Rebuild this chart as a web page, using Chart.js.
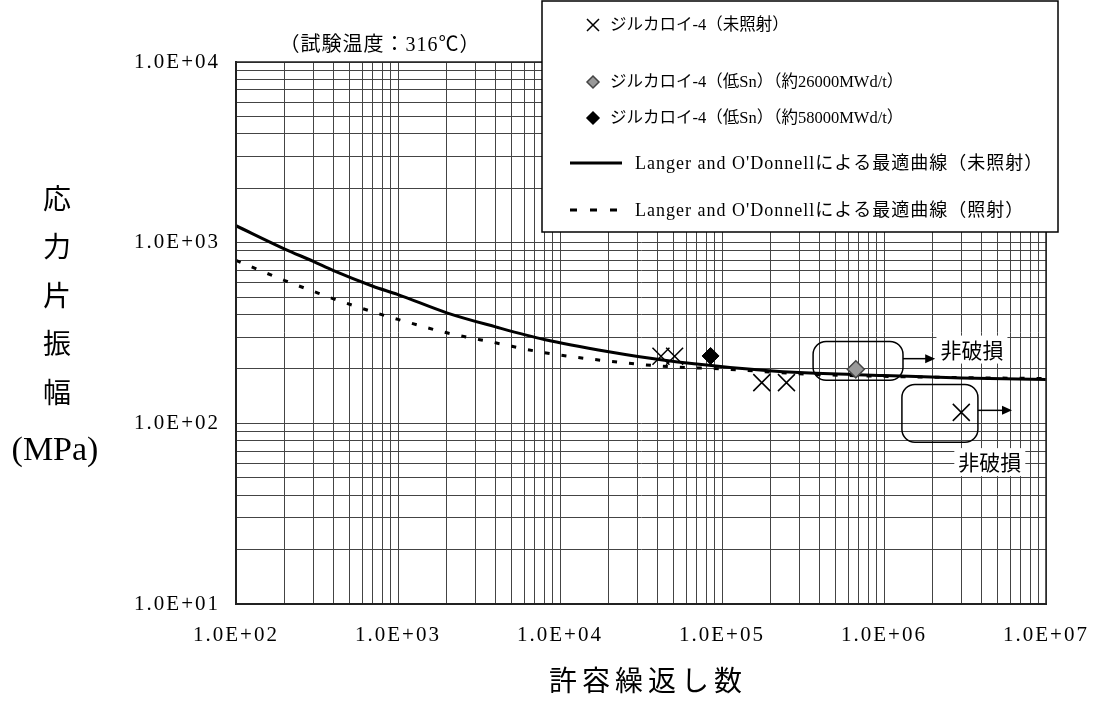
<!DOCTYPE html>
<html lang="ja">
<head>
<meta charset="utf-8">
<title>許容繰返し数</title>
<script src="https://cdn.jsdelivr.net/npm/chart.js@4.4.1/dist/chart.umd.min.js"></script>
<style>
  html, body { margin: 0; padding: 0; background: #fff; }
  #c { display: block; }
</style>
</head>
<body>
<canvas id="c" width="1097" height="701"></canvas>
<script>
// fitted curves (Langer and O'Donnell)
const curveN = [100, 200, 300, 400, 700, 1000, 2000, 4000, 8000, 20000, 43000, 112000, 300000, 1000000, 3000000, 10000000];
const curveUnirr = [1241, 922, 788, 700, 574, 516, 409, 342, 291, 249, 224, 204, 191, 184, 178, 175];
const curveIrr = [798, 617, 538, 489, 414, 376, 317, 279, 246, 221, 207, 199, 188, 182, 179, 177];

// test points
const unirrN = [42000, 51000, 176000, 250000, 3000000];
const unirrS = [235, 235, 168, 168, 115];
const lowSn26N = [670000];
const lowSn26S = [199];
const lowSn58N = [85000];
const lowSn58S = [236];

// axes
const xDecades = [100, 1000, 10000, 100000, 1000000, 10000000];
const xTickLabels = ['1.0E+02', '1.0E+03', '1.0E+04', '1.0E+05', '1.0E+06', '1.0E+07'];
const yDecades = [10, 100, 1000, 10000];
const yTickLabels = ['1.0E+01', '1.0E+02', '1.0E+03', '1.0E+04'];

const seriesNames = [
    'ジルカロイ-4（未照射）',
    'ジルカロイ-4（低Sn）（約26000MWd/t）',
    'ジルカロイ-4（低Sn）（約58000MWd/t）',
    "Langer and O'Donnellによる最適曲線（未照射）",
    "Langer and O'Donnellによる最適曲線（照射）"
];

// run-out notes: box corners, arrow end and label, in data units
const notes = [
    { n1: 365000, n2: 1310000, s1: 284, s2: 173, arrowN: 2070000, arrowS: 228, textN: 3490000, textS: 256 },
    { n1: 1290000, n2: 3800000, s1: 164, s2: 78.5, arrowN: 6170000, arrowS: 118, textN: 4500000, textS: 61 }
];
const noteText = '非破損';

const SERIF = '"Liberation Serif", "Noto Sans CJK JP", serif';
const JP = '"Noto Sans CJK JP", sans-serif';

function toPoints(xs, ys) {
    return xs.map((x, i) => ({ x: x, y: ys[i] }));
}

// 1..9 x decade ticks, same as the printed log grid
function logTicks(decades) {
    const t = [];
    decades.forEach((d, i) => {
        if (i === decades.length - 1) { t.push({ value: d }); return; }
        for (let m = 1; m <= 9; m++) t.push({ value: m * d });
    });
    return t;
}

function roundRect(ctx, x, y, w, h, r) {
    ctx.beginPath();
    ctx.moveTo(x + r, y);
    ctx.arcTo(x + w, y, x + w, y + h, r);
    ctx.arcTo(x + w, y + h, x, y + h, r);
    ctx.arcTo(x, y + h, x, y, r);
    ctx.arcTo(x, y, x + w, y, r);
    ctx.closePath();
}

function cross(ctx, x, y, h) {
    ctx.beginPath();
    ctx.moveTo(x - h, y - h); ctx.lineTo(x + h, y + h);
    ctx.moveTo(x + h, y - h); ctx.lineTo(x - h, y + h);
    ctx.stroke();
}

function diamond(ctx, x, y, r) {
    ctx.beginPath();
    ctx.moveTo(x, y - r); ctx.lineTo(x + r, y); ctx.lineTo(x, y + r); ctx.lineTo(x - r, y);
    ctx.closePath();
    ctx.fill();
    ctx.stroke();
}

const spacingPlugin = {
    id: 'spacing',
    beforeDraw(chart) { chart.ctx.letterSpacing = '2px'; },
    beforeDatasetsDraw(chart) { chart.ctx.letterSpacing = '0px'; }
};

const decorPlugin = {
    id: 'decor',
    afterDraw(chart) {
        const ctx = chart.ctx;
        const xs = chart.scales.x, ys = chart.scales.y;
        const area = chart.chartArea;
        ctx.save();

        // frame
        ctx.strokeStyle = '#222';
        ctx.lineWidth = 1.5;
        ctx.strokeRect(area.left, area.top, area.right - area.left, area.bottom - area.top);

        // notes
        ctx.lineWidth = 1.5;
        ctx.strokeStyle = '#000';
        ctx.fillStyle = '#000';
        notes.forEach(nt => {
            const x1 = xs.getPixelForValue(nt.n1), x2 = xs.getPixelForValue(nt.n2);
            const y1 = ys.getPixelForValue(nt.s1), y2 = ys.getPixelForValue(nt.s2);
            roundRect(ctx, x1, y1, x2 - x1, y2 - y1, 13);
            ctx.stroke();
            const ay = ys.getPixelForValue(nt.arrowS), ax = xs.getPixelForValue(nt.arrowN);
            ctx.beginPath();
            ctx.moveTo(x2, ay); ctx.lineTo(ax - 9, ay);
            ctx.stroke();
            ctx.beginPath();
            ctx.moveTo(ax, ay); ctx.lineTo(ax - 10, ay - 4.5); ctx.lineTo(ax - 10, ay + 4.5);
            ctx.closePath();
            ctx.fill();
            const tx = xs.getPixelForValue(nt.textN), ty = ys.getPixelForValue(nt.textS);
            ctx.font = '21px ' + JP;
            const w = ctx.measureText(noteText).width;
            ctx.fillStyle = '#fff';
            ctx.fillRect(tx - w / 2 - 4, ty - 14, w + 8, 28);
            ctx.fillStyle = '#000';
            ctx.textAlign = 'center';
            ctx.textBaseline = 'middle';
            ctx.fillText(noteText, tx, ty);
        });

        // legend box
        ctx.fillStyle = '#fff';
        ctx.fillRect(542, 1, 516, 231);
        ctx.strokeStyle = '#000';
        ctx.lineWidth = 1.5;
        ctx.strokeRect(542, 1, 516, 231);

        ctx.textAlign = 'left';
        ctx.textBaseline = 'middle';
        ctx.fillStyle = '#000';
        const rowY = [25, 82, 118, 163, 210];
        ctx.lineWidth = 1.5;
        cross(ctx, 593, rowY[0], 6);
        ctx.fillStyle = '#999';
        ctx.strokeStyle = '#444';
        diamond(ctx, 593, rowY[1], 6);
        ctx.fillStyle = '#000';
        ctx.strokeStyle = '#000';
        diamond(ctx, 593, rowY[2], 6);
        ctx.font = '16.5px ' + SERIF;
        for (let i = 0; i < 3; i++) ctx.fillText(seriesNames[i], 610, rowY[i] + 1);

        ctx.lineWidth = 3;
        ctx.beginPath();
        ctx.moveTo(570, rowY[3]); ctx.lineTo(622, rowY[3]);
        ctx.stroke();
        ctx.setLineDash([7, 13]);
        ctx.beginPath();
        ctx.moveTo(570, rowY[4]); ctx.lineTo(622, rowY[4]);
        ctx.stroke();
        ctx.setLineDash([]);
        ctx.font = '18px ' + SERIF;
        ctx.letterSpacing = '1px';
        ctx.fillText(seriesNames[3], 635, rowY[3] + 1);
        ctx.fillText(seriesNames[4], 635, rowY[4] + 1);

        // test condition
        ctx.textAlign = 'center';
        ctx.font = '20px ' + SERIF;
        ctx.fillText('（試験温度：316℃）', 380, 46);
        ctx.letterSpacing = '0px';

        // y title, stacked
        ctx.font = '28px ' + JP;
        ['応', '力', '片', '振', '幅'].forEach((ch, i) => {
            ctx.fillText(ch, 57, 198 + i * 48.5);
        });
        ctx.font = '34px ' + SERIF;
        ctx.fillText('(MPa)', 55, 451);

        // x title
        ctx.font = '28px ' + JP;
        ctx.letterSpacing = '5px';
        ctx.fillText('許容繰返し数', 648, 680);
        ctx.restore();
    }
};

new Chart(document.getElementById('c'), {
    type: 'scatter',
    data: {
        datasets: [
            {
                label: seriesNames[0],
                data: toPoints(unirrN, unirrS),
                pointStyle: 'crossRot',
                pointRadius: 12,
                pointBorderWidth: 1.5,
                borderColor: '#000',
                backgroundColor: 'rgba(0,0,0,0)',
                order: 1
            },
            {
                label: seriesNames[1],
                data: toPoints(lowSn26N, lowSn26S),
                pointStyle: 'rectRot',
                pointRadius: 8.5,
                pointBorderWidth: 1.5,
                borderColor: '#444',
                backgroundColor: '#9a9a9a',
                order: 0
            },
            {
                label: seriesNames[2],
                data: toPoints(lowSn58N, lowSn58S),
                pointStyle: 'rectRot',
                pointRadius: 8.5,
                pointBorderWidth: 1,
                borderColor: '#000',
                backgroundColor: '#000',
                order: 0
            },
            {
                label: seriesNames[3],
                data: toPoints(curveN, curveUnirr),
                showLine: true,
                pointRadius: 0,
                borderColor: '#000',
                borderWidth: 3,
                cubicInterpolationMode: 'monotone',
                order: 3
            },
            {
                label: seriesNames[4],
                data: toPoints(curveN, curveIrr),
                showLine: true,
                pointRadius: 0,
                borderColor: '#000',
                borderWidth: 3,
                borderDash: [5, 12],
                cubicInterpolationMode: 'monotone',
                order: 2
            }
        ]
    },
    options: {
        responsive: false,
        animation: false,
        devicePixelRatio: 1,
        layout: { padding: { left: 0, right: 51, top: 62, bottom: 0 } },
        plugins: {
            legend: { display: false },
            tooltip: { enabled: false }
        },
        scales: {
            x: {
                type: 'logarithmic',
                min: 100,
                max: 10000000,
                afterBuildTicks: s => { s.ticks = logTicks(xDecades); },
                afterFit: s => { s.height = 97; s.paddingLeft = 0; s.paddingRight = 0; },
                grid: { color: '#444', lineWidth: 1, drawTicks: false },
                border: { display: true, color: '#222', width: 2 },
                ticks: {
                    autoSkip: false,
                    maxRotation: 0,
                    padding: 19,
                    color: '#000',
                    font: { family: SERIF, size: 21 },
                    callback: v => {
                        const i = xDecades.indexOf(v);
                        return i >= 0 ? xTickLabels[i] : '';
                    }
                }
            },
            y: {
                type: 'logarithmic',
                min: 10,
                max: 10000,
                afterBuildTicks: s => { s.ticks = logTicks(yDecades); },
                afterFit: s => { s.width = 236; s.paddingTop = 0; s.paddingBottom = 0; },
                grid: { color: '#444', lineWidth: 1, drawTicks: false },
                border: { display: true, color: '#222', width: 2 },
                ticks: {
                    autoSkip: false,
                    padding: 16,
                    color: '#000',
                    font: { family: SERIF, size: 21 },
                    callback: v => {
                        const i = yDecades.indexOf(v);
                        return i >= 0 ? yTickLabels[i] : '';
                    }
                }
            }
        }
    },
    plugins: [spacingPlugin, decorPlugin]
});
</script>
</body>
</html>
